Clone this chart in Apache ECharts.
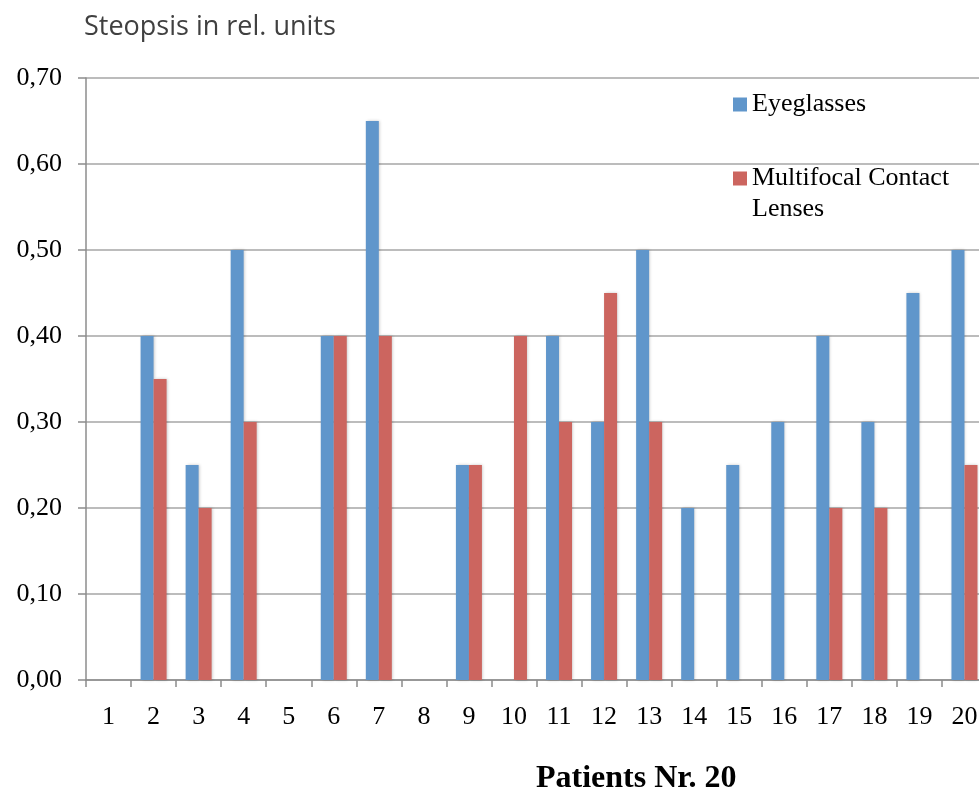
<!DOCTYPE html>
<html>
<head>
<meta charset="utf-8">
<script src="https://cdn.jsdelivr.net/npm/echarts@6/dist/echarts.min.js"></script>
<style>
  html, body { margin: 0; padding: 0; background: #ffffff; }
  #chart { width: 979px; height: 794px; }
</style>
</head>
<body>
<div id="chart"></div>
<script>
// Patient numbers along the x axis
const patients = ['1','2','3','4','5','6','7','8','9','10','11','12','13','14','15','16','17','18','19','20'];

// Stereopsis per patient (relative units)
const eyeglasses = [0, 0.40, 0.25, 0.50, 0, 0.40, 0.65, 0, 0.25, 0, 0.40, 0.30, 0.50, 0.20, 0.25, 0.30, 0.40, 0.30, 0.45, 0.50];
const multifocalLenses = [0, 0.35, 0.20, 0.30, 0, 0.40, 0.40, 0, 0.25, 0.40, 0.30, 0.45, 0.30, 0, 0, 0, 0.20, 0.20, 0, 0.25];

// Value axis tick labels (decimal comma)
const yTickLabels = ['0,00', '0,10', '0,20', '0,30', '0,40', '0,50', '0,60', '0,70'];

const seriesNames = ['Eyeglasses', 'Multifocal Contact Lenses'];
const colors = ['#6096cb', '#cc655f'];

const serif = '"Liberation Serif", "DejaVu Serif", serif';

const chart = echarts.init(document.getElementById('chart'), null, { renderer: 'canvas' });

const barShadow = {
  shadowBlur: 3,
  shadowColor: 'rgba(0,0,0,0.22)',
  shadowOffsetX: 1,
  shadowOffsetY: 0
};

chart.setOption({
  animation: false,
  backgroundColor: '#ffffff',
  title: {
    text: 'Steopsis in rel. units',
    left: 79,
    top: 9,
    textStyle: {
      fontFamily: '"Open Sans", "Liberation Sans", sans-serif',
      fontWeight: 'normal',
      fontSize: 27,
      color: '#404040'
    }
  },
  legend: {
    orient: 'vertical',
    left: 733,
    top: 89,
    padding: 0,
    itemWidth: 14,
    itemHeight: 14,
    itemGap: 12,
    icon: 'rect',
    data: seriesNames,
    // the leading blank line keeps the swatch level with the first text line
    formatter: function (name) {
      return name === 'Multifocal Contact Lenses' ? '\nMultifocal Contact\nLenses' : name;
    },
    textStyle: {
      fontFamily: serif,
      fontSize: 26,
      color: '#000000',
      lineHeight: 31
    }
  },
  grid: {
    left: 86,
    width: 901,
    top: 78,
    bottom: 114,
    containLabel: false,
    outerBoundsMode: 'none'
  },
  xAxis: {
    type: 'category',
    data: patients,
    axisLine: { lineStyle: { color: '#8c8c8c', width: 1.5 } },
    axisTick: { show: true, length: 7, lineStyle: { color: '#8c8c8c', width: 1.5 } },
    axisLabel: {
      margin: 24,
      fontFamily: serif,
      fontSize: 26,
      color: '#000000'
    },
    splitLine: { show: false }
  },
  yAxis: {
    type: 'value',
    min: 0,
    max: 0.7,
    interval: 0.1,
    axisLine: { show: true, lineStyle: { color: '#8c8c8c', width: 1.5 } },
    axisTick: { show: true, length: 8, lineStyle: { color: '#8c8c8c', width: 1.5 } },
    axisLabel: {
      margin: 24,
      fontFamily: serif,
      fontSize: 26,
      color: '#000000',
      formatter: function (v) {
        return yTickLabels[Math.round(v * 10)];
      }
    },
    splitLine: { show: true, lineStyle: { color: '#a6a6a6', width: 1.5 } }
  },
  graphic: [{
    type: 'text',
    left: 536,
    top: 763,
    style: {
      text: 'Patients Nr. 20',
      fontFamily: serif,
      fontWeight: 'bold',
      fontSize: 32,
      fill: '#000000'
    }
  }],
  series: [
    {
      name: seriesNames[0],
      type: 'bar',
      data: eyeglasses,
      barWidth: 13,
      barGap: '0%',
      itemStyle: Object.assign({ color: colors[0] }, barShadow)
    },
    {
      name: seriesNames[1],
      type: 'bar',
      data: multifocalLenses,
      barWidth: 13,
      barGap: '0%',
      itemStyle: Object.assign({ color: colors[1] }, barShadow)
    }
  ]
});
</script>
</body>
</html>
